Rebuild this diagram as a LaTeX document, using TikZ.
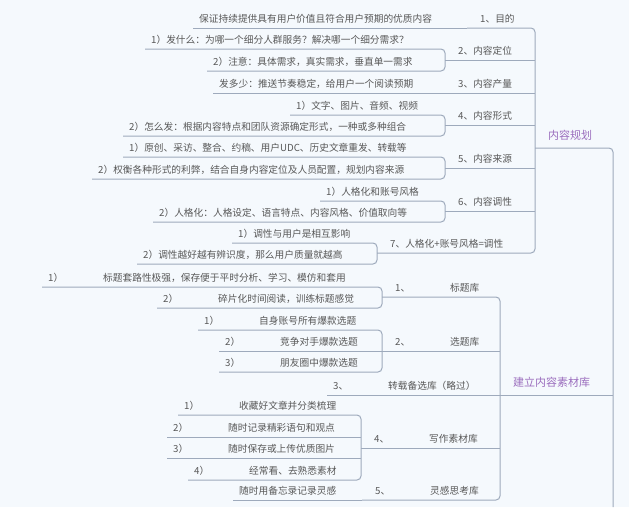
\documentclass[tikz,border=0pt]{standalone}
\usepackage{fontspec}
\setmainfont{Noto Sans CJK SC}
\definecolor{paper}{RGB}{245,249,253}
\definecolor{ink}{RGB}{88,88,88}
\definecolor{wire}{RGB}{158,170,188}
\definecolor{plum}{RGB}{155,110,190}
\newcommand{\numtag}[1]{\makebox[55pt][l]{#1}}
\tikzset{
  leaf/.style={anchor=south west,inner xsep=6pt,inner ysep=4pt,text height=8pt,text depth=1.5pt,text=ink,font=\fontsize{9.7}{12}\selectfont},
  hub/.style={leaf,inner xsep=13pt},
  branch/.style={leaf,inner xsep=13pt,inner ysep=6.5pt,text height=9pt,text=plum,font=\fontsize{11}{13}\selectfont},
  lnk/.style={draw=wire,line width=1pt,rounded corners=4pt}
}
\begin{document}
\begin{tikzpicture}[x=1pt,y=-1pt]
\fill[paper] (0,0) rectangle (629,507);
\useasboundingbox (0,0) rectangle (629,507);
% main branches
\node[branch] (plan) at (535,148) {内容规划};
\node[branch] (lib) at (500,395) {建立内容素材库};
\coordinate (stem) at (613,507);
% content planning
\node[hub] (aim) at (467,28) {1、目的};
\node[leaf] (aimA) at (193,28) {保证持续提供具有用户价值且符合用户预期的优质内容};
\node[hub] (pos) at (445,60) {2、内容定位};
\node[leaf] (posA) at (145,49) {1）发什么：为哪一个细分人群服务？解决哪一个细分需求？};
\node[leaf] (posB) at (207,71) {2）注意：具体需求，真实需求，垂直单一需求};
\node[hub] (amt) at (445,93) {3、内容产量};
\node[leaf] (amtA) at (213,93) {发多少：推送节奏稳定，给用户一个阅读预期};
\node[hub] (form) at (445,125) {4、内容形式};
\node[leaf] (formA) at (290,115) {1）文字、图片、音频、视频};
\node[leaf] (formB) at (123,136) {2）怎么发：根据内容特点和团队资源确定形式，一种或多种组合};
\node[hub] (src) at (445,168) {5、内容来源};
\node[leaf] (srcA) at (123,157) {1）原创、采访、整合、约稿、用户UDC、历史文章重发、转载等};
\node[leaf] (srcB) at (92,179) {2）权衡各种形式的利弊，结合自身内容定位及人员配置，规划内容来源};
\node[hub] (tone) at (445,211) {6、内容调性};
\node[leaf] (toneA) at (320,201) {1）人格化和账号风格};
\node[leaf] (toneB) at (153,222) {2）人格化：人格设定、语言特点、内容风格、价值取向等};
\node[hub] (mix) at (377,253) {7、人格化+账号风格=调性};
\node[leaf] (mixA) at (232,243) {1）调性与用户是相互影响};
\node[leaf] (mixB) at (137,264) {2）调性越好越有辨识度，那么用户质量就越高};
% material library
\node[hub] (ttl) at (382,297) {\numtag{1、}标题库};
\node[leaf] (ttlA) at (42,287) {\numtag{1）}标题套路性极强，保存便于平时分析、学习、模仿和套用};
\node[leaf] (ttlB) at (157,308) {\numtag{2）}碎片化时间阅读，训练标题感觉};
\node[hub] (tpc) at (382,351) {\numtag{2、}选题库};
\node[leaf] (tpcA) at (198,330) {\numtag{1）}自身账号所有爆款选题};
\node[leaf] (tpcB) at (219,351) {\numtag{2）}竞争对手爆款选题};
\node[leaf] (tpcC) at (219,372) {\numtag{3）}朋友圈中爆款选题};
\node[leaf] (rep) at (327,395) {\numtag{3、}转载备选库（略过）};
\node[hub] (mat) at (361,448) {\numtag{4、}写作素材库};
\node[leaf] (matA) at (178,415) {\numtag{1）}收藏好文章并分类梳理};
\node[leaf] (matB) at (167,437) {\numtag{2）}随时记录精彩语句和观点};
\node[leaf] (matC) at (167,458) {\numtag{3）}随时保存或上传优质图片};
\node[leaf] (matD) at (188,480) {\numtag{4）}经常看、去熟悉素材};
\node[hub] (idea) at (362,500) {\numtag{5、}灵感思考库};
\node[leaf] (ideaA) at (233,500) {随时用备忘录记录灵感};
% connectors to the stem
\draw[lnk] (plan.south west) -- (plan.south west -| stem) -- (stem);
\draw[lnk] (lib.south west) -- (lib.south west -| stem);
% brackets
\draw[lnk] (aim.south west) -- (aim.south west -| plan.south west) -- (mix.south west -| plan.south west) -- (mix.south west);
\foreach \n in {pos,amt,form,src,tone}
  \draw[lnk] (\n.south west) -- (\n.south west -| plan.south west);
\draw[lnk] (ttl.south west) -- (ttl.south west -| lib.south west) -- (idea.south west -| lib.south west) -- (idea.south west);
\foreach \n in {tpc,rep,mat}
  \draw[lnk] (\n.south west) -- (\n.south west -| lib.south west);
\draw[lnk] (aimA.south west) -- (aim.south west);
\draw[lnk] (amtA.south west) -- (amt.south west);
\draw[lnk] (ideaA.south west) -- (idea.south west);
\draw[lnk] (posA.south west) -- (posA.south west -| pos.south west) -- (posB.south west -| pos.south west) -- (posB.south west);
\draw[lnk] (formA.south west) -- (formA.south west -| form.south west) -- (formB.south west -| form.south west) -- (formB.south west);
\draw[lnk] (srcA.south west) -- (srcA.south west -| src.south west) -- (srcB.south west -| src.south west) -- (srcB.south west);
\draw[lnk] (toneA.south west) -- (toneA.south west -| tone.south west) -- (toneB.south west -| tone.south west) -- (toneB.south west);
\draw[lnk] (mixA.south west) -- (mixA.south west -| mix.south west) -- (mixB.south west -| mix.south west) -- (mixB.south west);
\draw[lnk] (ttlA.south west) -- (ttlA.south west -| ttl.south west) -- (ttlB.south west -| ttl.south west) -- (ttlB.south west);
\draw[lnk] (tpcA.south west) -- (tpcA.south west -| tpc.south west) -- (tpcC.south west -| tpc.south west) -- (tpcC.south west);
\draw[lnk] (tpcB.south west) -- (tpc.south west);
\draw[lnk] (matA.south west) -- (matA.south west -| mat.south west) -- (matD.south west -| mat.south west) -- (matD.south west);
\foreach \n in {matB,matC}
  \draw[lnk] (\n.south west) -- (\n.south west -| mat.south west);
\end{tikzpicture}
\end{document}
